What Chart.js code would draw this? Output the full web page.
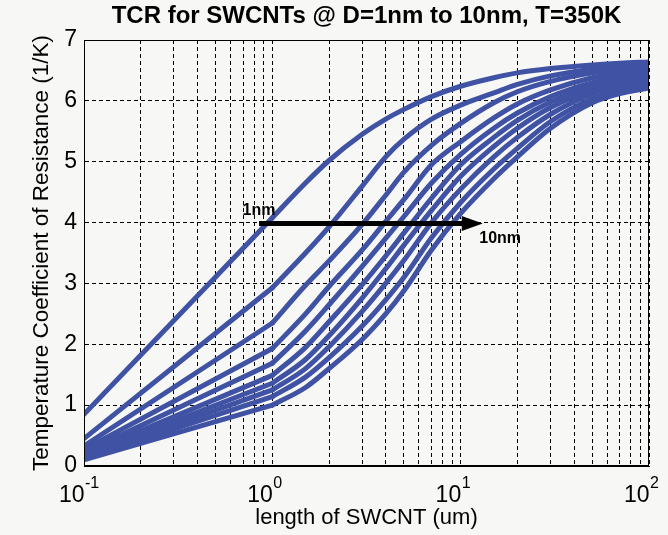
<!DOCTYPE html>
<html><head><meta charset="utf-8">
<script src="https://cdn.jsdelivr.net/npm/chart.js@4.4.1/dist/chart.umd.min.js"></script>
<style>
html,body{margin:0;padding:0;background:#f7f8f6;}
#wrap{width:668px;height:535px;position:relative;}
</style></head><body>
<div id="wrap"><canvas id="c" width="668" height="535"></canvas></div>
<script>
// ---- data ----
const lengthsUm = [0.1, 1, 1.5, 2, 3, 4, 5, 7, 10, 15, 20, 30, 50, 70, 100];
const tcr1nm  = [0.85, 4.08, 4.65, 5.02, 5.45, 5.70, 5.86, 6.07, 6.24, 6.38, 6.46, 6.53, 6.59, 6.62, 6.64];
const tcr2nm  = [0.45, 2.93, 3.50, 3.93, 4.60, 5.08, 5.37, 5.70, 5.93, 6.13, 6.27, 6.41, 6.52, 6.57, 6.60];
const tcr3nm  = [0.33, 2.35, 2.97, 3.37, 3.97, 4.45, 4.83, 5.27, 5.63, 5.97, 6.15, 6.32, 6.46, 6.52, 6.56];
const tcr4nm  = [0.27, 1.93, 2.50, 2.95, 3.55, 4.02, 4.38, 4.95, 5.33, 5.72, 5.95, 6.18, 6.38, 6.46, 6.52];
const tcr5nm  = [0.22, 1.69, 2.22, 2.65, 3.28, 3.74, 4.10, 4.65, 5.12, 5.55, 5.80, 6.07, 6.30, 6.40, 6.47];
const tcr6nm  = [0.19, 1.49, 1.95, 2.37, 2.98, 3.45, 3.83, 4.40, 4.95, 5.40, 5.68, 5.98, 6.24, 6.35, 6.43];
const tcr7nm  = [0.16, 1.36, 1.75, 2.14, 2.76, 3.24, 3.63, 4.20, 4.76, 5.25, 5.55, 5.89, 6.18, 6.30, 6.38];
const tcr8nm  = [0.14, 1.25, 1.60, 1.96, 2.54, 3.00, 3.38, 4.00, 4.55, 5.08, 5.40, 5.78, 6.12, 6.25, 6.33];
const tcr9nm  = [0.12, 1.14, 1.46, 1.78, 2.30, 2.73, 3.10, 3.75, 4.33, 4.88, 5.22, 5.66, 6.04, 6.18, 6.27];
const tcr10nm = [0.10, 1.00, 1.29, 1.60, 2.08, 2.50, 2.88, 3.55, 4.15, 4.72, 5.08, 5.55, 5.97, 6.12, 6.21];
const seriesValues = [tcr1nm, tcr2nm, tcr3nm, tcr4nm, tcr5nm, tcr6nm, tcr7nm, tcr8nm, tcr9nm, tcr10nm];
const diameterLabels = ['1nm','2nm','3nm','4nm','5nm','6nm','7nm','8nm','9nm','10nm'];

const xTickValues = [0.1, 1, 10, 100];
const xTickBase = '10';
const xTickExponents = ['-1', '0', '1', '2'];
const yTickValues = [0, 1, 2, 3, 4, 5, 6, 7];

const chartTitle = 'TCR for SWCNTs @ D=1nm to 10nm, T=350K';
const xAxisTitle = 'length of SWCNT (um)';
const yAxisTitle = 'Temperature Coefficient of Resistance (1/K)';

const arrowFrom = [0.85, 4];
const arrowTo = [13.1, 4];
const arrowStartLabel = '1nm';
const arrowStartLabelPos = [0.85, 4.19];
const arrowEndLabel = '10nm';
const arrowEndLabelPos = [16.2, 3.74];

// index in lengthsUm where the short-length straight part ends (L = 1 um)
const KNEE_INDEX = 1;

// ---- grid positions for a log axis (1..9 per decade) ----
const gridValues = [];
[0.1, 1, 10].forEach(d => { for (let k = 1; k <= 9; k++) gridValues.push(k * d); });
gridValues.push(100);

const LINE_COLOR = '#4052a3';
const FONT = '"Liberation Sans", Arial, sans-serif';

const overlay = {
  id: 'overlay',
  afterDraw(chart) {
    const {ctx, chartArea: a, scales: {x, y}} = chart;
    ctx.save();
    ctx.setLineDash([]);
    ctx.strokeStyle = '#000';
    ctx.lineWidth = 1;
    ctx.strokeRect(Math.round(a.left) + 0.5, Math.round(a.top) + 0.5,
                   Math.round(a.right - a.left) - 1, Math.round(a.bottom - a.top) - 1);
    // x tick labels 10^n
    ctx.fillStyle = '#000';
    ctx.textBaseline = 'alphabetic';
    xTickValues.forEach((v, i) => {
      const px = x.getPixelForValue(v);
      ctx.font = '23px ' + FONT;
      ctx.textAlign = 'right';
      ctx.fillText(xTickBase, px + 0.5, a.bottom + 36);
      ctx.font = '16px ' + FONT;
      ctx.textAlign = 'left';
      ctx.fillText(xTickExponents[i], px + 1, a.bottom + 22);
    });
    // arrow
    const x0 = x.getPixelForValue(arrowFrom[0]);
    const x1 = x.getPixelForValue(arrowTo[0]);
    const yy = y.getPixelForValue(arrowFrom[1]) + 1;
    ctx.strokeStyle = '#000';
    ctx.lineWidth = 5;
    ctx.beginPath(); ctx.moveTo(x0, yy); ctx.lineTo(x1 - 15, yy); ctx.stroke();
    ctx.beginPath();
    ctx.moveTo(x1, yy); ctx.lineTo(x1 - 21, yy - 7.5); ctx.lineTo(x1 - 21, yy + 7.5);
    ctx.closePath(); ctx.fill();
    // labels
    ctx.font = 'bold 16px ' + FONT;
    ctx.textAlign = 'center';
    ctx.textBaseline = 'middle';
    ctx.fillText(arrowStartLabel, x.getPixelForValue(arrowStartLabelPos[0]), y.getPixelForValue(arrowStartLabelPos[1]));
    ctx.fillText(arrowEndLabel, x.getPixelForValue(arrowEndLabelPos[0]), y.getPixelForValue(arrowEndLabelPos[1]));
    ctx.restore();
  }
};

const lineStyle = {
  borderColor: LINE_COLOR, backgroundColor: LINE_COLOR, borderWidth: 5,
  pointRadius: 0, borderJoinStyle: 'round', borderCapStyle: 'round', fill: false, clip: 0
};
const datasets = [];
seriesValues.forEach((vals, i) => {
  const pts = lengthsUm.map((L, j) => ({x: L, y: vals[j]}));
  // straight part for short tubes (0.1 to 1 um)
  datasets.push(Object.assign({label: diameterLabels[i] + ' short', data: pts.slice(0, KNEE_INDEX + 1), tension: 0}, lineStyle));
  // smooth part for longer tubes (1 to 100 um)
  datasets.push(Object.assign({label: diameterLabels[i], data: pts.slice(KNEE_INDEX), cubicInterpolationMode: 'monotone'}, lineStyle));
});

new Chart(document.getElementById('c'), {
  type: 'line',
  data: {datasets},
  options: {
    responsive: false,
    devicePixelRatio: 1,
    animation: false,
    events: [],
    layout: {padding: {left: 0, right: 19, top: 0, bottom: 0}},
    plugins: {
      legend: {display: false},
      tooltip: {enabled: false},
      title: {
        display: true, text: chartTitle, fullSize: false, color: '#000',
        font: {family: FONT, size: 24, weight: 'bold', lineHeight: 1.15},
        padding: {top: 3, bottom: 9.4}
      }
    },
    scales: {
      x: {
        type: 'logarithmic', min: 0.1, max: 100,
        afterBuildTicks: s => { s.ticks = gridValues.map(v => ({value: v})); },
        afterFit: s => { s.height = 69; },
        ticks: {display: false, autoSkip: false},
        grid: {color: '#000', lineWidth: 1, drawTicks: false},
        border: {display: true, color: '#000', width: 1, dash: [4, 3]},
        title: {display: true, text: xAxisTitle, color: '#000',
                font: {family: FONT, size: 22, lineHeight: 1.2}, padding: {top: 0, bottom: 3.8}}
      },
      y: {
        type: 'linear', min: 0, max: 7,
        afterBuildTicks: s => { s.ticks = yTickValues.map(v => ({value: v})); },
        afterFit: s => { s.width = 84; },
        ticks: {color: '#000', padding: 7, font: {family: FONT, size: 23}},
        grid: {color: '#000', lineWidth: 1, drawTicks: false},
        border: {display: true, color: '#000', width: 1, dash: [4, 3]},
        title: {display: true, text: yAxisTitle, color: '#000',
                font: {family: FONT, size: 22.5, lineHeight: 1.2}, padding: {top: 28.5, bottom: 0}}
      }
    }
  },
  plugins: [overlay]
});
</script>
</body></html>
